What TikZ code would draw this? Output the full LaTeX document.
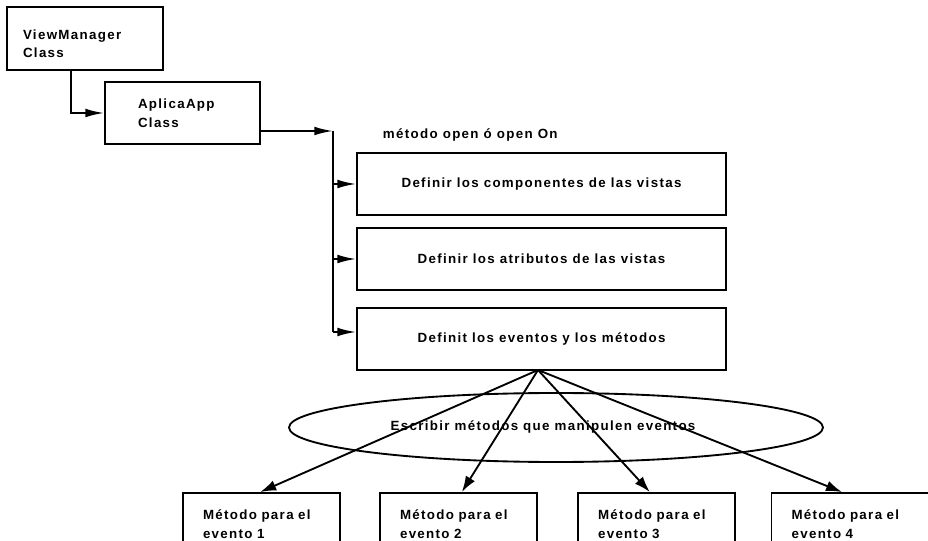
\documentclass[tikz,border=0pt]{standalone}
\usepackage{fontspec}
\setmainfont{Liberation Sans}
\newfontfamily\scanfont{Liberation Sans}[LetterSpace=10]
\usetikzlibrary{arrows.meta,shapes.geometric}
\begin{document}
\begin{tikzpicture}[x=0.75pt,y=-0.75pt,
  line width=1.4pt,
  font=\scanfont\bfseries\fontsize{10}{14}\selectfont,
  box/.style={draw, rectangle, inner ysep=0pt, align=left},
  tip/.style={-{Latex[length=14pt,width=6.5pt]}},
  fantip/.style={-{Latex[length=12pt,width=8pt]}},
  ebox/.style={box, inner xsep=15pt, text width=87.75pt, minimum height=46.5pt},
]
\fill[white] (0,0) rectangle (928,541);
\clip (0,0) rectangle (928,541);

\node[box, inner xsep=12pt, text width=93pt, minimum height=47.25pt] (vm) at (85,38.5) {\rule{0pt}{15pt}ViewManager\\Class};
\node[box, inner xsep=24.75pt, text width=66.75pt, minimum height=46.5pt] (app) at (182.5,113) {AplicaApp\\Class};
\coordinate (bus) at (333,131);
\coordinate (busend) at (333,332);
\node[anchor=west, inner sep=0pt] (lab) at (382,135) {método open ó open On};
\node[box, inner sep=0pt, minimum width=276.75pt, minimum height=46.5pt] (b1) at (541.5,184) {Definir los componentes de las vistas};
\node[box, inner sep=0pt, minimum width=276.75pt, minimum height=46.5pt] (b2) at (541.5,259) {Definir los atributos de las vistas};
\node[box, inner sep=0pt, minimum width=276.75pt, minimum height=46.5pt] (b3) at (541.5,339) {Definit los eventos y los métodos};

\node[draw, ellipse, minimum width=400.5pt, minimum height=51.75pt, inner sep=0pt] (el) at (556,427.5) {};
\node[inner sep=0pt] (eltxt) at (543,427) {Escribir métodos que manipulen eventos};

\node[ebox] (m1) at (261.5,524) {Método~para~el\\evento 1};
\node[ebox] (m2) at (458.5,524) {Método~para~el\\evento 2};
\node[ebox] (m3) at (656.5,524) {Método~para~el\\evento 3};
\node[ebox] (m4) at (850,524) {Método~para~el\\evento 4};

\draw[tip] ([xshift=-10.5pt]vm.south) |- (app.west);
\draw[tip] (app.east |- bus) -- (bus);
\draw (bus) -- (busend);
\draw[tip] (bus |- b1.west) -- (b1.west);
\draw[tip] (bus |- b2.west) -- (b2.west);
\draw[tip] (busend) -- (busend -| b3.west);

\coordinate (fan) at (538,370);
\draw[fantip] (fan) -- ([xshift=-1pt]m1.north);
\draw[fantip] (fan) -- ([xshift=2.5pt]m2.north);
\draw[fantip] (fan) -- ([xshift=-5pt]m3.north);
\draw[fantip] (fan) -- ([xshift=-6pt]m4.north);
\end{tikzpicture}
\end{document}
